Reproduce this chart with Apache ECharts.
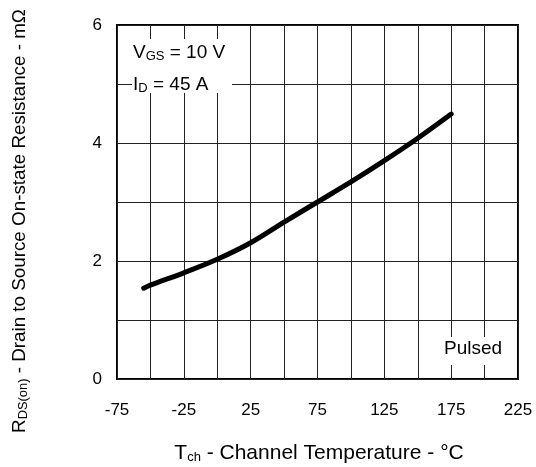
<!DOCTYPE html>
<html>
<head>
<meta charset="utf-8">
<script src="https://cdn.jsdelivr.net/npm/echarts@6/dist/echarts.min.js"></script>
<style>html,body{margin:0;padding:0;background:#fff}#c{width:536px;height:467px}</style>
</head>
<body>
<div id="c"></div>
<script>
var temps = [-55, -50, -25, 0, 25, 50, 75, 100, 125, 150, 175];
var rdson = [1.54, 1.59, 1.80, 2.03, 2.31, 2.66, 3.00, 3.34, 3.70, 4.08, 4.49];
var xTickLabels = ['-75', '-25', '25', '75', '125', '175', '225'];
var yTickLabels = ['0', '2', '4', '6'];

var FONT = 'Liberation Sans, Arial, sans-serif';
var chart = echarts.init(document.getElementById('c'));
var data = temps.map(function (t, i) { return [t, rdson[i]]; });

function richStyle(size, sub) {
  return {
    n: { fontSize: size, fontFamily: FONT, fill: '#000' },
    s: { fontSize: sub, fontFamily: FONT, fill: '#000', verticalAlign: 'bottom', padding: [0, 0, 0, 0] }
  };
}

chart.setOption({
  animation: false,
  grid: { left: 117, right: 18, top: 25, bottom: 88, show: true, borderColor: '#000', borderWidth: 2, backgroundColor: 'transparent' },
  xAxis: {
    type: 'value', min: -75, max: 225, interval: 25,
    axisLine: { show: false }, axisTick: { show: false },
    splitLine: { show: true, lineStyle: { color: '#222', width: 1 } },
    axisLabel: {
      margin: 23, fontSize: 17, color: '#000', fontFamily: FONT,
      formatter: function (v) { var s = String(v); return xTickLabels.indexOf(s) >= 0 ? s : ''; }
    }
  },
  yAxis: {
    type: 'value', min: 0, max: 6, interval: 1,
    axisLine: { show: false }, axisTick: { show: false },
    splitLine: { show: true, lineStyle: { color: '#222', width: 1 } },
    axisLabel: {
      margin: 15, fontSize: 17, color: '#000', fontFamily: FONT,
      formatter: function (v) { var s = String(v); return yTickLabels.indexOf(s) >= 0 ? s : ''; }
    }
  },
  series: [{
    type: 'line', data: data, smooth: 0.3, symbol: 'none',
    lineStyle: { color: '#000', width: 5, cap: 'round' }, z: 5
  }],
  graphic: [
    { type: 'rect', shape: { x: 132, y: 39, width: 100, height: 54 }, style: { fill: '#fff' }, z: 10 },
    { type: 'text', x: 133, y: 53, z: 11, style: {
      text: '{n|V}{s|GS}{n| = 10 V}', verticalAlign: 'middle', fill: '#000', rich: richStyle(19, 13)
    } },
    { type: 'text', x: 133, y: 85, z: 11, style: {
      text: '{n|I}{s|D}{n| = 45 A}', verticalAlign: 'middle', fill: '#000', rich: richStyle(19, 13)
    } },
    { type: 'rect', shape: { x: 437, y: 337, width: 74, height: 28 }, style: { fill: '#fff' }, z: 10 },
    { type: 'text', x: 473, y: 349, z: 11, style: { text: 'Pulsed', fontSize: 19, fontFamily: FONT, fill: '#000', align: 'center', verticalAlign: 'middle' } },
    { type: 'text', x: 319, y: 453, z: 11, style: {
      text: '{n|T}{s|ch}{n| - Channel Temperature - °C}', align: 'center', verticalAlign: 'middle', fill: '#000', rich: richStyle(21, 13)
    } },
    { type: 'text', x: 20, y: 221, rotation: Math.PI / 2, scaleX: 0.99, z: 11, style: {
      text: '{n|R}{s|DS(on)}{n| - Drain to Source On-state Resistance - mΩ}', align: 'center', verticalAlign: 'middle', fill: '#000', rich: richStyle(19, 13)
    } }
  ]
});
</script>
</body>
</html>
